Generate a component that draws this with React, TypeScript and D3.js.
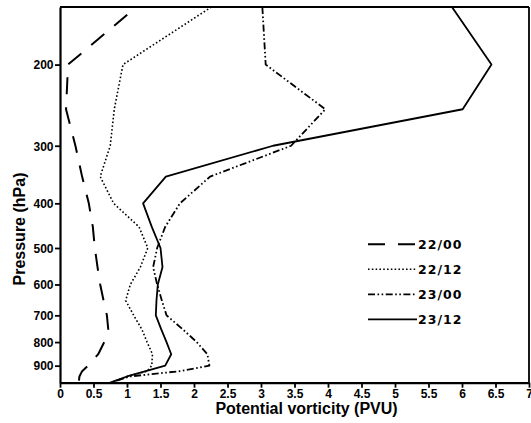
import React, { useEffect, useRef } from "react";
import * as d3 from "d3";

// pressure levels (hPa) shared by every profile
const levels = [150, 200, 250, 300, 350, 400, 450, 500, 550, 600, 650, 700, 750, 800, 850, 900, 925, 950, 980];

// potential vorticity (PVU) per time
const pv2200 = [1.14, 0.12, 0.09, 0.23, 0.33, 0.43, 0.49, 0.52, 0.56, 0.6, 0.65, 0.7, 0.72, 0.66, 0.57, 0.42, 0.33, 0.29, 0.28];
const pv2212 = [2.26, 0.94, 0.81, 0.75, 0.6, 0.8, 1.18, 1.31, 1.2, 1.05, 0.98, 1.1, 1.22, 1.3, 1.38, 1.37, 1.3, 1.0, 0.75];
const pv2300 = [3.02, 3.07, 3.96, 3.45, 2.24, 1.79, 1.57, 1.45, 1.39, 1.45, 1.52, 1.59, 1.83, 2.04, 2.2, 2.23, 1.79, 1.04, 0.75];
const pv2312 = [5.85, 6.44, 6.01, 3.18, 1.58, 1.24, 1.37, 1.5, 1.53, 1.46, 1.44, 1.43, 1.51, 1.59, 1.66, 1.57, 1.28, 1.0, 0.75];

const seriesNames = ["22/00", "22/12", "23/00", "23/12"];
const yTicks = [200, 300, 400, 500, 600, 700, 800, 900];
const xTicks = [0, 0.5, 1, 1.5, 2, 2.5, 3, 3.5, 4, 4.5, 5, 5.5, 6, 6.5, 7];

const styles = [
  { dash: "17,13", offset: 18, width: 2 },
  { dash: "1.6,2.2", offset: 0, width: 1.6 },
  { dash: "7,2.5,1.6,2.5,1.6,2.5", offset: 0, width: 1.8 },
  { dash: "none", offset: 0, width: 1.8 },
];

const W = 531;
const H = 423;

const App: React.FC = () => {
  const svgRef = useRef<SVGSVGElement | null>(null);

  useEffect(() => {
    if (!svgRef.current) return;
    const svg = d3.select(svgRef.current);
    svg.selectAll("*").remove();

    const left = 60, right = 529, top = 7, bottom = 382.7;

    const x = d3.scaleLinear().domain([0, 7]).range([left, right]);
    const y = d3.scaleLog().domain([150, 980]).range([top, bottom]);

    const font = "'Liberation Sans', Arial, sans-serif";

    svg.append("defs").append("clipPath").attr("id", "plot")
      .append("rect").attr("x", left).attr("y", top)
      .attr("width", right - left).attr("height", bottom - top);

    // frame top & right
    svg.append("line").attr("x1", left).attr("x2", right).attr("y1", top).attr("y2", top)
      .attr("stroke", "#000").attr("stroke-width", 2.2);
    svg.append("line").attr("x1", right).attr("x2", right).attr("y1", top).attr("y2", bottom)
      .attr("stroke", "#000").attr("stroke-width", 1.8);

    const all = [pv2200, pv2212, pv2300, pv2312];
    const line = d3.line<number>()
      .x(d => x(d))
      .y((_, i) => y(levels[i]));

    const g = svg.append("g").attr("clip-path", "url(#plot)");
    all.forEach((vals, k) => {
      g.append("path")
        .datum(vals)
        .attr("fill", "none")
        .attr("stroke", "#000")
        .attr("stroke-width", styles[k].width)
        .attr("stroke-dasharray", styles[k].dash)
        .attr("stroke-dashoffset", styles[k].offset)
        .attr("stroke-linejoin", "round")
        .attr("d", line);
    });

    // axes
    const yAxis = svg.append("g").attr("transform", `translate(${left},0)`)
      .call(d3.axisLeft(y).tickValues(yTicks).tickFormat(d3.format("d") as any)
        .tickSize(5).tickSizeOuter(0).tickPadding(1.5));
    const xAxis = svg.append("g").attr("transform", `translate(0,${bottom})`)
      .call(d3.axisBottom(x).tickValues(xTicks).tickFormat(d => String(d))
        .tickSize(5).tickSizeOuter(0).tickPadding(2));

    [yAxis, xAxis].forEach(a => {
      a.select(".domain").attr("stroke-width", 2.2);
      a.selectAll(".tick line").attr("stroke-width", 1.8);
      a.selectAll(".tick text")
        .attr("font-family", font)
        .attr("font-weight", "bold")
        .attr("font-size", 12)
        .attr("fill", "#000");
    });
    yAxis.selectAll(".tick text").attr("dy", "0.36em");

    // axis titles
    svg.append("text")
      .attr("x", (left + right) / 2 + 12)
      .attr("y", 414)
      .attr("text-anchor", "middle")
      .attr("font-family", font)
      .attr("font-weight", "bold")
      .attr("font-size", 16)
      .text("Potential vorticity (PVU)");

    svg.append("text")
      .attr("transform", `translate(25,229) rotate(-90)`)
      .attr("text-anchor", "middle")
      .attr("font-family", font)
      .attr("font-weight", "bold")
      .attr("font-size", 16)
      .text("Pressure (hPa)");

    // legend
    const legend = svg.append("g");
    seriesNames.forEach((name, k) => {
      const base = 249.3 + k * 25;
      legend.append("line")
        .attr("x1", 368).attr("x2", 417)
        .attr("y1", base - 5).attr("y2", base - 5)
        .attr("stroke", "#000")
        .attr("stroke-width", styles[k].width)
        .attr("stroke-dasharray", styles[k].dash);
      legend.append("text")
        .attr("x", 418).attr("y", base)
        .attr("font-family", "'DejaVu Sans', sans-serif")
        .attr("font-weight", "bold")
        .attr("font-size", 12.5)
        .attr("letter-spacing", 1)
        .text(name);
    });
  }, []);

  return (
    <div style={{ position: "absolute", left: 0, top: 0, background: "#fff" }}>
      <svg ref={svgRef} width={W} height={H} style={{ display: "block" }}></svg>
    </div>
  );
};

export default App;
